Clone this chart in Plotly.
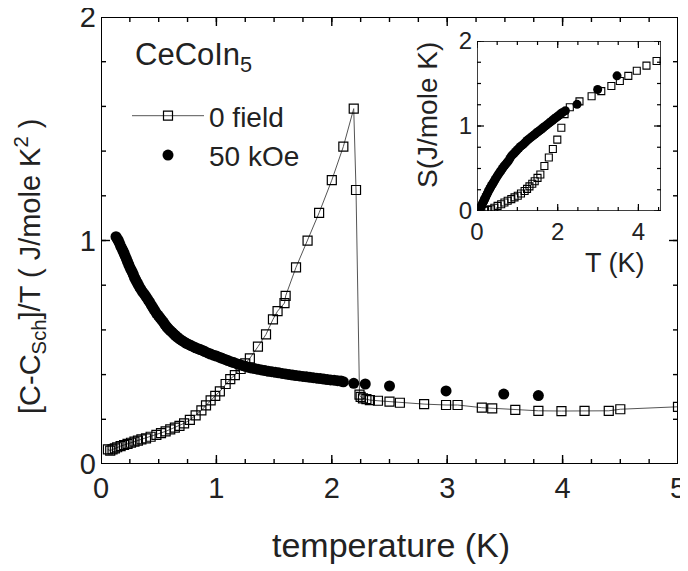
import plotly.graph_objects as go

# ---- main panel: 0 field, [C - C_Sch]/T vs T ----
t_zero = [0.06, 0.08, 0.10, 0.12, 0.14, 0.17, 0.20, 0.23, 0.26, 0.29, 0.32, 0.35, 0.39, 0.43,
          0.48, 0.52, 0.56, 0.60, 0.64, 0.68, 0.72, 0.77, 0.82, 0.87, 0.91, 0.95, 0.99, 1.03,
          1.08, 1.12, 1.16, 1.21, 1.25, 1.29, 1.36, 1.43, 1.49, 1.53, 1.59, 1.60, 1.69, 1.79,
          1.89, 2.00, 2.10, 2.19, 2.21, 2.24, 2.25, 2.27, 2.30, 2.33, 2.40, 2.50, 2.59, 2.80,
          2.99, 3.09, 3.30, 3.39, 3.59, 3.79, 3.99, 4.19, 4.40, 4.50, 5.00]
c_zero = [0.065, 0.060, 0.065, 0.070, 0.075, 0.080, 0.085, 0.090, 0.095, 0.100, 0.105, 0.110,
          0.115, 0.122, 0.130, 0.138, 0.146, 0.155, 0.163, 0.171, 0.182, 0.197, 0.218, 0.240,
          0.262, 0.285, 0.305, 0.325, 0.358, 0.380, 0.398, 0.425, 0.450, 0.473, 0.525, 0.580,
          0.647, 0.684, 0.720, 0.752, 0.880, 0.999, 1.124, 1.270, 1.420, 1.590, 1.226, 0.310,
          0.300, 0.294, 0.290, 0.286, 0.283, 0.279, 0.274, 0.268, 0.264, 0.264, 0.252, 0.249,
          0.242, 0.238, 0.237, 0.238, 0.238, 0.245, 0.256]

# ---- main panel: 50 kOe ----
t_field = [0.13, 0.14, 0.15, 0.16, 0.17, 0.18, 0.19, 0.20, 0.21, 0.22, 0.23, 0.24, 0.25, 0.26,
           0.27, 0.28, 0.29, 0.30, 0.31, 0.32, 0.33, 0.345, 0.36, 0.375, 0.39, 0.405, 0.42,
           0.435, 0.45, 0.465, 0.48, 0.495, 0.51, 0.525, 0.54, 0.555, 0.57, 0.585, 0.60, 0.615,
           0.63, 0.645, 0.66, 0.68, 0.70, 0.72, 0.74, 0.76, 0.78, 0.80, 0.82, 0.84, 0.86, 0.88,
           0.90, 0.925, 0.95, 0.975, 1.00, 1.025, 1.05, 1.075, 1.10, 1.125, 1.15, 1.175, 1.20,
           1.225, 1.25, 1.275, 1.30, 1.33, 1.36, 1.39, 1.42, 1.45, 1.48, 1.51, 1.54, 1.57, 1.60,
           1.63, 1.66, 1.69, 1.72, 1.75, 1.78, 1.81, 1.84, 1.87, 1.90, 1.93, 1.96, 1.99, 2.02,
           2.05, 2.08, 2.10, 2.19, 2.29, 2.50, 2.99, 3.49, 3.79]
c_field = [1.017, 1.008, 1.000, 0.988, 0.975, 0.965, 0.955, 0.943, 0.930, 0.918, 0.905, 0.893,
           0.880, 0.870, 0.860, 0.848, 0.835, 0.825, 0.815, 0.805, 0.795, 0.782, 0.770, 0.760,
           0.749, 0.737, 0.725, 0.712, 0.700, 0.687, 0.674, 0.665, 0.655, 0.645, 0.635, 0.624,
           0.613, 0.605, 0.597, 0.590, 0.582, 0.575, 0.568, 0.560, 0.553, 0.546, 0.540, 0.535,
           0.530, 0.525, 0.520, 0.516, 0.512, 0.508, 0.503, 0.497, 0.492, 0.487, 0.483, 0.478,
           0.473, 0.468, 0.463, 0.458, 0.454, 0.449, 0.445, 0.441, 0.437, 0.433, 0.430, 0.427,
           0.424, 0.421, 0.418, 0.415, 0.413, 0.410, 0.408, 0.405, 0.403, 0.400, 0.398, 0.396,
           0.394, 0.392, 0.390, 0.388, 0.386, 0.384, 0.382, 0.380, 0.378, 0.376, 0.375, 0.373,
           0.371, 0.368, 0.361, 0.358, 0.349, 0.327, 0.313, 0.306]

# ---- inset: entropy S(T) ----
ts_zero = [0.20, 0.28, 0.35, 0.43, 0.51, 0.60, 0.68, 0.76, 0.85, 0.93, 1.01, 1.09, 1.18, 1.24,
           1.30, 1.37, 1.43, 1.50, 1.57, 1.67, 1.78, 1.88, 1.99, 2.09, 2.17, 2.30, 2.54, 2.84,
           3.08, 3.33, 3.54, 3.75, 3.96, 4.20, 4.45]
s_zero = [0.005, 0.012, 0.020, 0.038, 0.060, 0.080, 0.100, 0.120, 0.140, 0.160, 0.180, 0.205,
          0.235, 0.260, 0.290, 0.320, 0.350, 0.390, 0.430, 0.530, 0.630, 0.730, 0.840, 0.980,
          1.140, 1.220, 1.290, 1.350, 1.410, 1.470, 1.530, 1.590, 1.650, 1.710, 1.765]

ts_field = [0.05, 0.065, 0.08, 0.095, 0.11, 0.125, 0.14, 0.155, 0.17, 0.185, 0.20, 0.22, 0.24,
            0.26, 0.28, 0.30, 0.32, 0.34, 0.36, 0.38, 0.40, 0.425, 0.45, 0.475, 0.50, 0.525,
            0.55, 0.575, 0.60, 0.63, 0.66, 0.69, 0.72, 0.75, 0.78, 0.815, 0.85, 0.885, 0.92,
            0.96, 1.00, 1.04, 1.08, 1.12, 1.16, 1.20, 1.24, 1.28, 1.32, 1.36, 1.40, 1.44, 1.48,
            1.52, 1.56, 1.60, 1.64, 1.68, 1.72, 1.76, 1.80, 1.84, 1.88, 1.92, 1.96, 2.00, 2.04,
            2.08, 2.12, 2.19, 2.48, 2.99, 3.47]
s_field = [0.000, 0.015, 0.030, 0.045, 0.060, 0.075, 0.090, 0.105, 0.120, 0.135, 0.150, 0.170,
           0.190, 0.210, 0.230, 0.248, 0.265, 0.283, 0.300, 0.315, 0.330, 0.350, 0.370, 0.390,
           0.410, 0.428, 0.445, 0.463, 0.480, 0.500, 0.520, 0.538, 0.555, 0.573, 0.590, 0.618,
           0.645, 0.663, 0.680, 0.700, 0.720, 0.740, 0.760, 0.775, 0.790, 0.810, 0.830, 0.845,
           0.860, 0.875, 0.890, 0.905, 0.920, 0.935, 0.950, 0.965, 0.980, 0.995, 1.010, 1.025,
           1.040, 1.055, 1.070, 1.085, 1.100, 1.115, 1.130, 1.145, 1.160, 1.180, 1.255, 1.430,
           1.590]

# axis ranges
main_x_range, main_y_range = [0, 5], [0, 2]
inset_x_range, inset_y_range = [0, 4.56], [0, 2.0]

FONT = "Liberation Sans, Arial, sans-serif"
TXT = "#222222"

# page body has an 8 px default margin, so the figure is 8 px smaller and shifted
W, H = 680, 563
ML, MR, MT, MB = 93, 10, 9, 107
PW, PH = W - ML - MR, H - MT - MB  # 577 x 447

INSET_PX = (477, 661, 211, 41)  # page pixels: left, right, bottom, top


def px_x(page_x):
    return (page_x - 8 - ML) / PW


def px_y(page_y):
    return (H - MB - (page_y - 8)) / PH


fig = go.Figure()

fig.add_trace(go.Scatter(
    x=t_zero, y=c_zero, mode="lines+markers", name="0 field",
    line=dict(color="#555555", width=1),
    marker=dict(symbol="square-open", size=9, color="black", line=dict(width=1.2)),
    xaxis="x", yaxis="y"))
fig.add_trace(go.Scatter(
    x=t_field, y=c_field, mode="markers", name="50 kOe",
    marker=dict(symbol="circle", size=11, color="black"),
    xaxis="x", yaxis="y"))

fig.add_trace(go.Scatter(
    x=ts_zero, y=s_zero, mode="markers", showlegend=False,
    marker=dict(symbol="square-open", size=7, color="black", line=dict(width=1.1)),
    xaxis="x2", yaxis="y2"))
fig.add_trace(go.Scatter(
    x=ts_field, y=s_field, mode="markers", showlegend=False,
    marker=dict(symbol="circle", size=9, color="black"),
    xaxis="x2", yaxis="y2"))


# ---- box frame and inward tick marks, built from the axis ranges ----
def frame_and_ticks(xa, ya, rx, ry, w_px, h_px, steps, lens, lw_frame, lw_tick):
    ux = (rx[1] - rx[0]) / w_px  # data units per pixel
    uy = (ry[1] - ry[0]) / h_px
    fx = [rx[0], rx[1], rx[1], rx[0], rx[0]]
    fy = [ry[0], ry[0], ry[1], ry[1], ry[0]]
    tx, ty = [], []
    for (sx, sy), (lx, ly) in zip(steps, lens):
        n = int(round((rx[1] - rx[0]) / sx))
        for i in range(n + 1):
            v = rx[0] + i * sx
            if v > rx[1] + 1e-9:
                break
            tx += [v, v, None, v, v, None]
            ty += [ry[0], ry[0] + lx * uy, None, ry[1], ry[1] - lx * uy, None]
        n = int(round((ry[1] - ry[0]) / sy))
        for i in range(n + 1):
            v = ry[0] + i * sy
            if v > ry[1] + 1e-9:
                break
            tx += [rx[0], rx[0] + ly * ux, None, rx[1], rx[1] - ly * ux, None]
            ty += [v, v, None, v, v, None]
    fig.add_trace(go.Scatter(x=tx, y=ty, mode="lines", xaxis=xa, yaxis=ya,
                             line=dict(color="black", width=lw_tick), showlegend=False,
                             hoverinfo="skip", cliponaxis=False))
    fig.add_trace(go.Scatter(x=fx, y=fy, mode="lines", xaxis=xa, yaxis=ya,
                             line=dict(color="black", width=lw_frame), showlegend=False,
                             hoverinfo="skip", cliponaxis=False))


frame_and_ticks("x", "y", main_x_range, main_y_range, PW, PH,
                steps=[(0.25, 0.2), (1.0, 1.0)], lens=[(5, 5), (9, 9)],
                lw_frame=2, lw_tick=1.4)
frame_and_ticks("x2", "y2", inset_x_range, inset_y_range,
                INSET_PX[1] - INSET_PX[0], INSET_PX[2] - INSET_PX[3],
                steps=[(0.5, 0.25), (2.0, 1.0)], lens=[(4, 4), (7, 7)],
                lw_frame=1.5, lw_tick=1.2)


def label_axis(fsize):
    return dict(showline=False, ticks="", showgrid=False, zeroline=False, automargin=False,
                ticklabeloverflow="allow", tick0=0, ticklabelstandoff=4,
                tickfont=dict(size=fsize, family=FONT, color=TXT))


fig.update_layout(
    width=W, height=H, autosize=False,
    margin=dict(l=ML, r=MR, t=MT, b=MB, autoexpand=False),
    paper_bgcolor="white", plot_bgcolor="white",
    font=dict(family=FONT, color=TXT),
    showlegend=True,
    legend=dict(x=px_x(127), y=px_y(91), xanchor="left", yanchor="top",
                font=dict(size=28, family=FONT, color=TXT),
                bgcolor="rgba(0,0,0,0)", itemwidth=72, tracegroupgap=0),
    xaxis=dict(**label_axis(29), range=main_x_range, dtick=1),
    yaxis=dict(**label_axis(29), range=main_y_range, dtick=1),
    xaxis2=dict(**label_axis(24), domain=[px_x(INSET_PX[0]), px_x(INSET_PX[1])], anchor="y2",
                range=inset_x_range, dtick=2),
    yaxis2=dict(**label_axis(24), domain=[px_y(INSET_PX[2]), px_y(INSET_PX[3])], anchor="x2",
                range=inset_y_range, dtick=1),
    annotations=[
        dict(text="[C-C<sub>Sch</sub>]/T ( J/mole K<sup>2</sup> )", x=px_x(30), y=px_y(267),
             xref="paper", yref="paper", xanchor="center", yanchor="middle", showarrow=False,
             textangle=-90, font=dict(size=29, family=FONT, color=TXT)),
        dict(text="temperature (K)", x=px_x(391), y=px_y(545), xref="paper", yref="paper",
             xanchor="center", yanchor="middle", showarrow=False,
             font=dict(size=34, family=FONT, color=TXT)),
        dict(text="CeCoIn<sub>5</sub>", x=px_x(133), y=px_y(57), xref="paper", yref="paper",
             xanchor="left", yanchor="middle", showarrow=False,
             font=dict(size=31, family=FONT, color=TXT)),
        dict(text="T (K)", x=px_x(615), y=px_y(263), xref="paper", yref="paper",
             xanchor="center", yanchor="middle", showarrow=False,
             font=dict(size=27, family=FONT, color=TXT)),
        dict(text="S(J/mole K)", x=px_x(428), y=px_y(115), xref="paper", yref="paper",
             xanchor="center", yanchor="middle", showarrow=False, textangle=-90,
             font=dict(size=28, family=FONT, color=TXT)),
    ],
)

fig.write_html("out.html")
